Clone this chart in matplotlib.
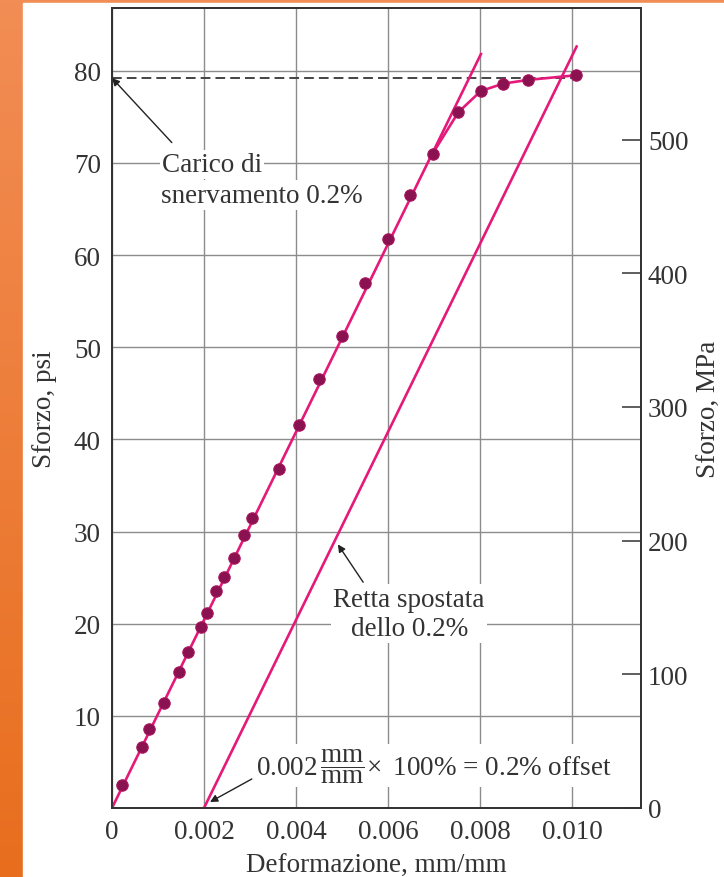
import numpy as np
import matplotlib
matplotlib.use("Agg")
import matplotlib.pyplot as plt
from matplotlib.patches import Rectangle
from matplotlib.colors import LinearSegmentedColormap

plt.rcParams['font.family'] = ['Liberation Serif', 'DejaVu Serif']
plt.rcParams['mathtext.fontset'] = 'custom'
plt.rcParams['mathtext.rm'] = 'Liberation Serif'
plt.rcParams['mathtext.it'] = 'Liberation Serif:italic'

# measured points (strain mm/mm, stress in the "psi" units of the chart)
strain = [0.00022, 0.00065, 0.00081, 0.00112, 0.00146, 0.00166, 0.00194, 0.00207,
          0.00225, 0.00244, 0.00265, 0.00288, 0.00304, 0.00364, 0.00407, 0.00449,
          0.00499, 0.00550, 0.00600, 0.00648, 0.00697, 0.00753, 0.00802, 0.00851,
          0.00905, 0.01008]
stress = [2.5, 6.6, 8.6, 11.4, 14.8, 16.9, 19.6, 21.2,
          23.5, 25.1, 27.1, 29.6, 31.5, 36.8, 41.6, 46.5,
          51.2, 57.0, 61.7, 66.5, 71.0, 75.5, 77.8, 78.6,
          79.0, 79.5]

modulus = 10200          # slope of the elastic line
elastic_end = 0.00802    # where the drawn elastic line stops
offset = 0.002           # 0.2 % offset
offset_end = 0.0101
yield_stress = 79.2
curve_start = 0.0069     # points from here on are joined by the yield curve

xticks = [0, 0.002, 0.004, 0.006, 0.008, 0.010]
xtick_labels = ['0', '0.002', '0.004', '0.006', '0.008', '0.010']
yticks = [10, 20, 30, 40, 50, 60, 70, 80]
mpa_ticks = [0, 100, 200, 300, 400, 500]
psi_to_mpa = 6.895

pink = '#E5197A'
dot = '#8A1250'
txt = '#333333'
fs = 19.5

fig = plt.figure(figsize=(7.24, 8.78), dpi=100)

# orange frame on the left / top
bg = fig.add_axes([0, 0, 1, 1], zorder=-10)
cmap = LinearSegmentedColormap.from_list('frame', ['#F28D55', '#E86E1E'])
bg.imshow(np.linspace(0, 1, 256)[:, None], cmap=cmap, extent=[0, 1, 0, 1], aspect='auto')
bg.add_patch(Rectangle((23 / 724, 0), 1 - 23 / 724, 1 - 4 / 878, color='white'))
bg.set_xlim(0, 1)
bg.set_ylim(0, 1)
bg.axis('off')

ax = fig.add_axes([112 / 724, 1 - 809 / 878, 529 / 724, 800 / 878])
ax.set_xlim(0, 0.0115)
ax.set_ylim(0, 86.8)
ax.set_xticks(xticks)
ax.set_xticklabels(xtick_labels)
ax.set_yticks(yticks)
ax.grid(True, color='#8c8c8c', lw=1.0, zorder=0)
ax.set_axisbelow(True)
ax.tick_params(length=0, pad=8, labelsize=fs, labelcolor=txt)
for s in ax.spines.values():
    s.set_color('#333333')
    s.set_linewidth(1.3)

s_arr = np.array(strain)
t_arr = np.array(stress)

# elastic line and 0.2% offset line
ax.plot([0, elastic_end], [0, modulus * elastic_end], color=pink, lw=1.9, zorder=3)
ax.plot([offset, offset_end], [0, modulus * (offset_end - offset)], color=pink, lw=1.9, zorder=3)
# yield curve through the last points
m = s_arr >= curve_start
ax.plot(s_arr[m], t_arr[m], color=pink, lw=1.9, zorder=3)
# yield stress dashed line
ax.plot([0, offset_end], [yield_stress, yield_stress], color='#444444', lw=1.4,
        ls=(0, (5, 2.6)), zorder=2)
ax.plot(s_arr, t_arr, 'o', ms=8.2, mfc=dot, mec='#A8145E', mew=0.8, zorder=4)

box = dict(facecolor='white', edgecolor='none', pad=1.5)
arrow = dict(arrowstyle='-|>', color='#222222', lw=1.0, mutation_scale=11,
             shrinkA=0, shrinkB=0)

ax.text(0.00108, 69.1, 'Carico di', fontsize=fs, color=txt, ha='left', va='baseline',
        bbox=box, zorder=5)
ax.text(0.00107, 65.8, 'snervamento 0.2%', fontsize=fs, color=txt, ha='left',
        va='baseline', bbox=box, zorder=5)
ax.annotate('', xy=(0, yield_stress), xytext=(0.0013, 72.2), arrowprops=arrow, zorder=5)

ax.text(0.00646, 18.8, 'Retta spostata\ndello 0.2%', fontsize=fs, color=txt,
        ha='center', va='baseline', multialignment='center', linespacing=1.22,
        bbox=box, zorder=5)
ax.annotate('', xy=(0.00491, 28.6), xytext=(0.00546, 24.5), arrowprops=arrow, zorder=5)

ax.text(0.00314, 3.6, r'0.002$\,\dfrac{\mathrm{mm}}{\mathrm{mm}}\!\times$ 100% = 0.2% offset',
        fontsize=fs, color=txt, ha='left', va='baseline', bbox=box, zorder=5)
ax.annotate('', xy=(0.00213, 0.65), xytext=(0.00304, 3.15), arrowprops=arrow, zorder=5)

ax.set_xlabel('Deformazione, mm/mm', fontsize=fs, color=txt)
ax.xaxis.set_label_coords(0.5, -0.056)
ax.set_ylabel('Sforzo, psi', fontsize=fs, color=txt)
ax.yaxis.set_label_coords(-0.104, 0.5)

ax2 = ax.twinx()
ax2.set_ylim(0, 86.8 * psi_to_mpa)
ax2.set_yticks(mpa_ticks)
ax2.tick_params(direction='in', length=13.5, width=1.1, color='#333333', pad=5,
                labelsize=fs, labelcolor=txt)
for s in ax2.spines.values():
    s.set_color('#333333')
    s.set_linewidth(1.3)
ax2.set_ylabel('Sforzo, MPa', fontsize=fs, color=txt)
ax2.yaxis.set_label_coords(1.105, 0.5)

fig.savefig('out.png', dpi=100)
